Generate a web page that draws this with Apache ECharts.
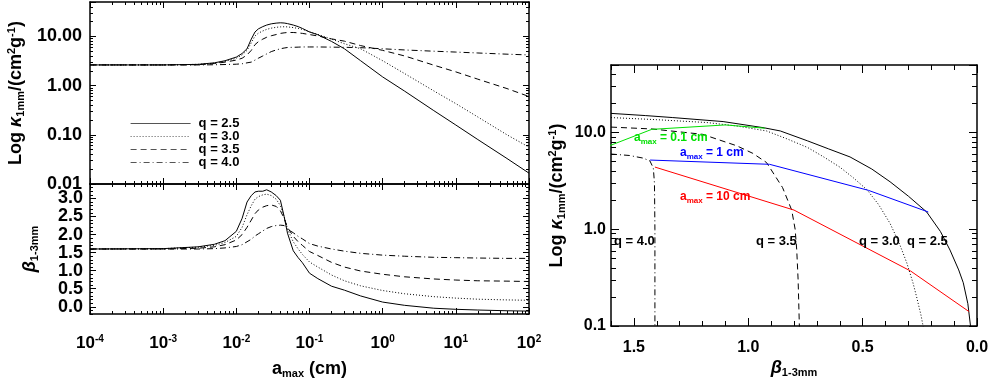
<!DOCTYPE html>
<html>
<head>
<meta charset="utf-8">
<script src="https://cdn.jsdelivr.net/npm/echarts@6/dist/echarts.min.js"></script>
<style>
html, body { margin: 0; padding: 0; background: #fff; }
#main { width: 988px; height: 382px; }
</style>
</head>
<body>
<div id="main"></div>
<script>
// grain size grid (cm), shared by both left panels
var aMax = [1e-4, 1e-3, 3e-3, 5e-3, 7e-3, 0.01, 0.012, 0.014, 0.016, 0.018, 0.02, 0.023, 0.026, 0.03, 0.035,
	0.04, 0.045, 0.05, 0.06, 0.07, 0.08, 0.1, 0.13, 0.2, 0.3, 0.5, 1, 2, 5, 10, 20, 50, 100]

// kappa_1mm (cm^2/g), top left
var kappaQ25 = [2.63, 2.63, 2.7, 2.9, 3.2, 3.8, 4.5, 5.6, 8.8, 12.3, 14.2, 15.8, 17.0, 18.0, 18.6, 18.9, 18.7,
	18.2, 17.0, 15.8, 14.5, 12.3, 10.8, 7.9, 5.6, 3.2, 1.5, 0.77, 0.31, 0.158, 0.08, 0.033, 0.0166]
var kappaQ30 = [2.63, 2.63, 2.7, 2.85, 3.1, 3.6, 4.2, 5.2, 7.4, 10.2, 11.6, 12.9, 13.9, 14.7, 15.3, 15.6, 15.7,
	15.6, 15.1, 14.5, 13.9, 12.4, 11.0, 8.8, 7.1, 5.6, 3.2, 1.75, 0.78, 0.43, 0.23, 0.1, 0.056]
var kappaQ35 = [2.63, 2.63, 2.66, 2.8, 3.0, 3.3, 3.6, 4.2, 5.2, 6.8, 7.8, 8.8, 9.6, 10.3, 10.9, 11.5, 11.8,
	12.0, 12.0, 11.8, 11.5, 10.9, 10.2, 8.9, 8.0, 6.5, 5.2, 4.0, 2.6, 1.9, 1.35, 0.87, 0.6]
var kappaQ40 = [2.63, 2.63, 2.63, 2.65, 2.68, 2.72, 2.78, 2.9, 3.0, 3.3, 3.6, 4.0, 4.4, 4.9, 5.3, 5.6, 5.8,
	5.95, 6.0, 6.05, 6.1, 6.1, 6.1, 6.05, 6.0, 5.9, 5.6, 5.3, 5.0, 4.8, 4.6, 4.35, 4.2]

// beta_1-3mm, bottom left
var betaQ25 = [1.6, 1.61, 1.66, 1.73, 1.83, 2.09, 2.45, 2.9, 3.08, 3.18, 3.2, 3.2, 3.24, 3.18, 3.08, 2.95, 2.5,
	2.04, 1.55, 1.36, 1.22, 0.93, 0.78, 0.57, 0.46, 0.3, 0.13, 0.04, -0.04, -0.07, -0.09, -0.11, -0.12]
var betaQ30 = [1.6, 1.61, 1.65, 1.7, 1.78, 1.95, 2.2, 2.55, 2.8, 2.98, 3.05, 3.1, 3.12, 3.08, 2.98, 2.8, 2.5,
	2.15, 1.8, 1.6, 1.45, 1.24, 1.1, 0.88, 0.72, 0.58, 0.45, 0.36, 0.28, 0.24, 0.21, 0.19, 0.18]
var betaQ35 = [1.6, 1.6, 1.62, 1.66, 1.72, 1.85, 2.0, 2.2, 2.4, 2.58, 2.68, 2.76, 2.8, 2.82, 2.78, 2.66, 2.45,
	2.2, 1.95, 1.8, 1.7, 1.53, 1.42, 1.23, 1.1, 0.99, 0.9, 0.83, 0.77, 0.74, 0.72, 0.71, 0.7]
var betaQ40 = [1.6, 1.6, 1.6, 1.61, 1.63, 1.67, 1.72, 1.8, 1.87, 1.96, 2.02, 2.1, 2.17, 2.22, 2.25, 2.26, 2.25,
	2.15, 2.05, 1.95, 1.88, 1.75, 1.68, 1.6, 1.54, 1.48, 1.43, 1.4, 1.37, 1.36, 1.35, 1.34, 1.34]

// right panel: kappa against beta, one curve per q
var rBetaQ25 = [1.6, 1.45, 1.33, 1.11, 0.93, 0.86, 0.74, 0.65, 0.555, 0.46, 0.38, 0.3, 0.22, 0.16, 0.118, 0.08, 0.06, 0.04, 0.026]
var rKappaQ25 = [15.8, 15.0, 14.3, 13.0, 11.2, 10.4, 8.2, 6.8, 5.6, 4.2, 3.1, 2.2, 1.51, 0.95, 0.61, 0.38, 0.28, 0.17, 0.09]
var rBetaQ30 = [1.6, 1.4, 1.18, 1.05, 0.92, 0.83, 0.74, 0.67, 0.6, 0.54, 0.48, 0.43, 0.38, 0.34, 0.307, 0.28, 0.264, 0.245, 0.232]
var rKappaQ30 = [14.3, 13.6, 12.7, 11.7, 10.4, 8.6, 7.0, 5.6, 4.4, 3.4, 2.55, 1.8, 1.15, 0.72, 0.45, 0.28, 0.2, 0.13, 0.09]
var rBetaQ35 = [1.6, 1.42, 1.2, 1.05, 0.98, 0.92, 0.85, 0.81, 0.795, 0.788, 0.782, 0.776]
var rKappaQ35 = [11.4, 10.9, 9.6, 7.3, 6.1, 4.9, 2.7, 1.58, 1.0, 0.61, 0.3, 0.09]
var rBetaQ40 = [1.6, 1.52, 1.46, 1.43, 1.415, 1.41, 1.408, 1.408]
var rKappaQ40 = [6.0, 5.8, 5.45, 5.1, 4.3, 3.0, 1.0, 0.09]

// right panel: fixed a_max lines across q
var amax01Beta = [1.70, 1.422, 1.10, 0.927]
var amax01Kappa = [6.0, 10.8, 12.0, 11.1]
var amax1Beta = [1.429, 0.907, 0.475, 0.213]
var amax1Kappa = [5.2, 4.7, 2.53, 1.51]
var amax10Beta = [1.408, 0.80, 0.29, 0.035]
var amax10Kappa = [4.4, 1.58, 0.37, 0.141]

var qNames = ['q = 2.5', 'q = 3.0', 'q = 3.5', 'q = 4.0']
var betaTickLabels = [0, 0.5, 1.0, 1.5, 2.0, 2.5, 3.0]
var rightBetaLabels = [0, 0.5, 1.0, 1.5]

var FONT = '"Liberation Sans", Arial, Helvetica, sans-serif'
var BLACK = '#000'
var dashes = ['solid', [1, 2], [6, 4], [6, 3, 1, 3]]

function zip(xs, ys){
	return xs.map(function(x, i){ return [x, ys[i]] })
}

function decadeMinor(lo, hi){
	var out = []
	for(var e = Math.floor(lo); e <= Math.ceil(hi); e++){
		for(var k = 2; k <= 9; k++){
			var v = e + Math.log10(k)
			if(v > lo + 1e-9 && v < hi - 1e-9) out.push(v)
		}
	}
	return out
}

function steps(lo, hi, step){
	var out = []
	for(var i = Math.ceil(lo / step - 1e-9); i * step <= hi + 1e-9; i++){
		out.push(+(i * step).toFixed(6))
	}
	return out
}

function decadeLabel(digits){
	return function(v){
		var e = Math.log10(v)
		return Math.abs(e - Math.round(e)) < 1e-6 ? v.toFixed(digits) : ''
	}
}

var richName = {
	it: {fontStyle: 'italic'},
	sub: {fontSize: 11, padding: [9, 0, 0, 0]},
	sup: {fontSize: 11, padding: [0, 0, 9, 0]}
}

var xAxes = [], yAxes = []

// one side of a boxed IDL style frame: main axis plus a companion axis for minor ticks
function side(list, grid, s, pos, main){
	var ax = {
		gridIndex: grid, type: s.type, min: s.min, max: s.max, inverse: !!s.inverse,
		position: pos, nameMoveOverlap: false,
		axisLine: {show: true, onZero: false, lineStyle: {color: BLACK, width: 1.5}},
		splitLine: {show: false},
		axisTick: {show: true, inside: true, length: s.majorLen, lineStyle: {color: BLACK, width: 1}},
		axisLabel: {show: false}
	}
	if(s.type !== 'log') ax.axisTick.customValues = s.major
	if(main && s.label) ax.axisLabel = s.label
	if(main && s.name){
		ax.name = s.name
		ax.nameLocation = 'middle'
		ax.nameGap = s.nameGap
		if(s.nameRotate) ax.nameRotate = s.nameRotate
		ax.nameTextStyle = {fontFamily: FONT, fontSize: 18, fontWeight: 'bold', color: BLACK, rich: richName}
	}
	list.push(ax)
	var idx = list.length - 1
	list.push({
		gridIndex: grid, type: 'value', min: s.tmin, max: s.tmax, inverse: !!s.inverse,
		position: pos, nameMoveOverlap: false,
		axisLine: {show: false, onZero: false}, splitLine: {show: false}, axisLabel: {show: false},
		axisTick: {show: true, inside: true, length: s.minorLen, customValues: s.minor,
			lineStyle: {color: BLACK, width: 1}}
	})
	return idx
}

function box(grid, xs, ys){
	var xi = side(xAxes, grid, xs, 'bottom', true)
	side(xAxes, grid, xs, 'top', false)
	var yi = side(yAxes, grid, ys, 'left', true)
	side(yAxes, grid, ys, 'right', false)
	return {x: xi, y: yi}
}

var labelFont = {fontFamily: FONT, fontWeight: 'bold', color: BLACK}

var aAxisBase = {
	type: 'log', min: 1e-4, max: 100, tmin: -4, tmax: 2,
	minor: decadeMinor(-4, 2), majorLen: 6, minorLen: 3
}

var topLeft = box(0,
	aAxisBase,
	{
		type: 'log', min: 0.01, max: 50, tmin: -2, tmax: Math.log10(50),
		minor: decadeMinor(-2, Math.log10(50)), majorLen: 6, minorLen: 3,
		label: Object.assign({show: true, inside: false, margin: 8, fontSize: 18,
			formatter: decadeLabel(2)}, labelFont),
		name: 'Log {it|κ}{sub|1mm}/(cm{sup|2}g{sup|-1})', nameGap: 64, nameRotate: 90
	})

var bottomLeft = box(1,
	Object.assign({}, aAxisBase, {
		label: Object.assign({show: true, margin: 20, fontSize: 17,
			formatter: function(v){
				var e = Math.log10(v)
				if(Math.abs(e - Math.round(e)) > 1e-6) return ''
				return '10{sup|' + Math.round(e) + '}'
			},
			rich: {sup: {fontSize: 10, fontWeight: 'bold', fontFamily: FONT, padding: [0, 0, 9, 0]}}
		}, labelFont),
		name: 'a{sub|max} (cm)', nameGap: 45
	}),
	{
		type: 'value', min: -0.2, max: 3.4, tmin: -0.2, tmax: 3.4,
		major: betaTickLabels, minor: steps(-0.2, 3.4, 0.1), majorLen: 6, minorLen: 3,
		label: Object.assign({show: true, margin: 7, fontSize: 18, customValues: betaTickLabels,
			formatter: function(v){ return v.toFixed(1) }}, labelFont),
		name: '{it|β}{sub|1-3mm}', nameGap: 50, nameRotate: 90
	})

var right = box(2,
	{
		type: 'value', min: 0, max: 1.6, tmin: 0, tmax: 1.6, inverse: true,
		major: rightBetaLabels, minor: steps(0, 1.6, 0.1), majorLen: 8, minorLen: 5,
		label: Object.assign({show: true, margin: 14, fontSize: 16, customValues: rightBetaLabels,
			formatter: function(v){ return v.toFixed(1) }}, labelFont),
		name: '{it|β}{sub|1-3mm}', nameGap: 32
	},
	{
		type: 'log', min: 0.1, max: 50, tmin: -1, tmax: Math.log10(50),
		minor: decadeMinor(-1, Math.log10(50)), majorLen: 8, minorLen: 5,
		label: Object.assign({show: true, margin: 5, fontSize: 16, formatter: decadeLabel(1)}, labelFont),
		name: 'Log {it|κ}{sub|1mm}/(cm{sup|2}g{sup|-1})', nameGap: 44, nameRotate: 90
	})

function line(name, axes, data, dash, color, z){
	return {
		type: 'line', name: name, xAxisIndex: axes.x, yAxisIndex: axes.y, data: data,
		symbol: 'none', showSymbol: false, silent: true, clip: true, z: z || 3,
		lineStyle: {color: color || BLACK, width: 1, type: dash},
		itemStyle: {color: color || BLACK}
	}
}

var kappas = [kappaQ25, kappaQ30, kappaQ35, kappaQ40]
var betas = [betaQ25, betaQ30, betaQ35, betaQ40]
var rBetas = [rBetaQ25, rBetaQ30, rBetaQ35, rBetaQ40]
var rKappas = [rKappaQ25, rKappaQ30, rKappaQ35, rKappaQ40]

var series = []
qNames.forEach(function(n, i){
	series.push(line(n, topLeft, zip(aMax, kappas[i]), dashes[i]))
})
qNames.forEach(function(n, i){
	series.push(line('beta ' + n, bottomLeft, zip(aMax, betas[i]), dashes[i]))
	series.push(line('ratio ' + n, right, zip(rBetas[i], rKappas[i]), dashes[i]))
})
series.push(line('a = 0.1 cm', right, zip(amax01Beta, amax01Kappa), 'solid', '#00e000', 5))
series.push(line('a = 1 cm', right, zip(amax1Beta, amax1Kappa), 'solid', '#0000ff', 5))
series.push(line('a = 10 cm', right, zip(amax10Beta, amax10Kappa), 'solid', '#ff0000', 5))

function note(text, x, y, color, size){
	return {
		type: 'text', x: x, y: y, z: 10, silent: true,
		style: {
			text: text, fill: color, font: 'bold ' + size + 'px ' + FONT,
			align: 'left', verticalAlign: 'middle',
			rich: {s: {fontSize: 8, fontWeight: 'bold', fontFamily: FONT, fill: color, padding: [7, 0, 0, 0]},
				n: {fontSize: size, fontWeight: 'bold', fontFamily: FONT, fill: color}}
		}
	}
}

var chart = echarts.init(document.getElementById('main'), null, {renderer: 'canvas'})
chart.setOption({
	animation: false,
	backgroundColor: '#fff',
	grid: [
		{left: 90, top: 2, width: 439, height: 182, containLabel: false, outerBoundsMode: 'none'},
		{left: 90, top: 184, width: 439, height: 130, containLabel: false, outerBoundsMode: 'none'},
		{left: 611, top: 65, width: 366, height: 261, containLabel: false, outerBoundsMode: 'none'}
	],
	xAxis: xAxes,
	yAxis: yAxes,
	legend: {
		data: qNames, orient: 'vertical', left: 125, top: 112,
		itemWidth: 60, itemHeight: 12, itemGap: 0, selectedMode: false,
		itemStyle: {opacity: 0},
		lineStyle: {width: 1.2, color: '#555'},
		textStyle: {fontFamily: FONT, fontSize: 13, fontWeight: 'bold', color: BLACK, padding: [0, 0, 0, 3]}
	},
	graphic: [
		note('{n|a}{s|max}{n| = 0.1 cm}', 634, 138, '#00e000', 12),
		note('{n|a}{s|max}{n| = 1 cm}', 680, 153, '#0000ff', 12),
		note('{n|a}{s|max}{n| = 10 cm}', 680, 197, '#ff0000', 12),
		note('{n|q = 4.0}', 614, 241, BLACK, 13),
		note('{n|q = 3.5}', 756, 241, BLACK, 13),
		note('{n|q = 3.0}', 859, 241, BLACK, 13),
		note('{n|q = 2.5}', 907, 241, BLACK, 13)
	],
	series: series
})
</script>
</body>
</html>
